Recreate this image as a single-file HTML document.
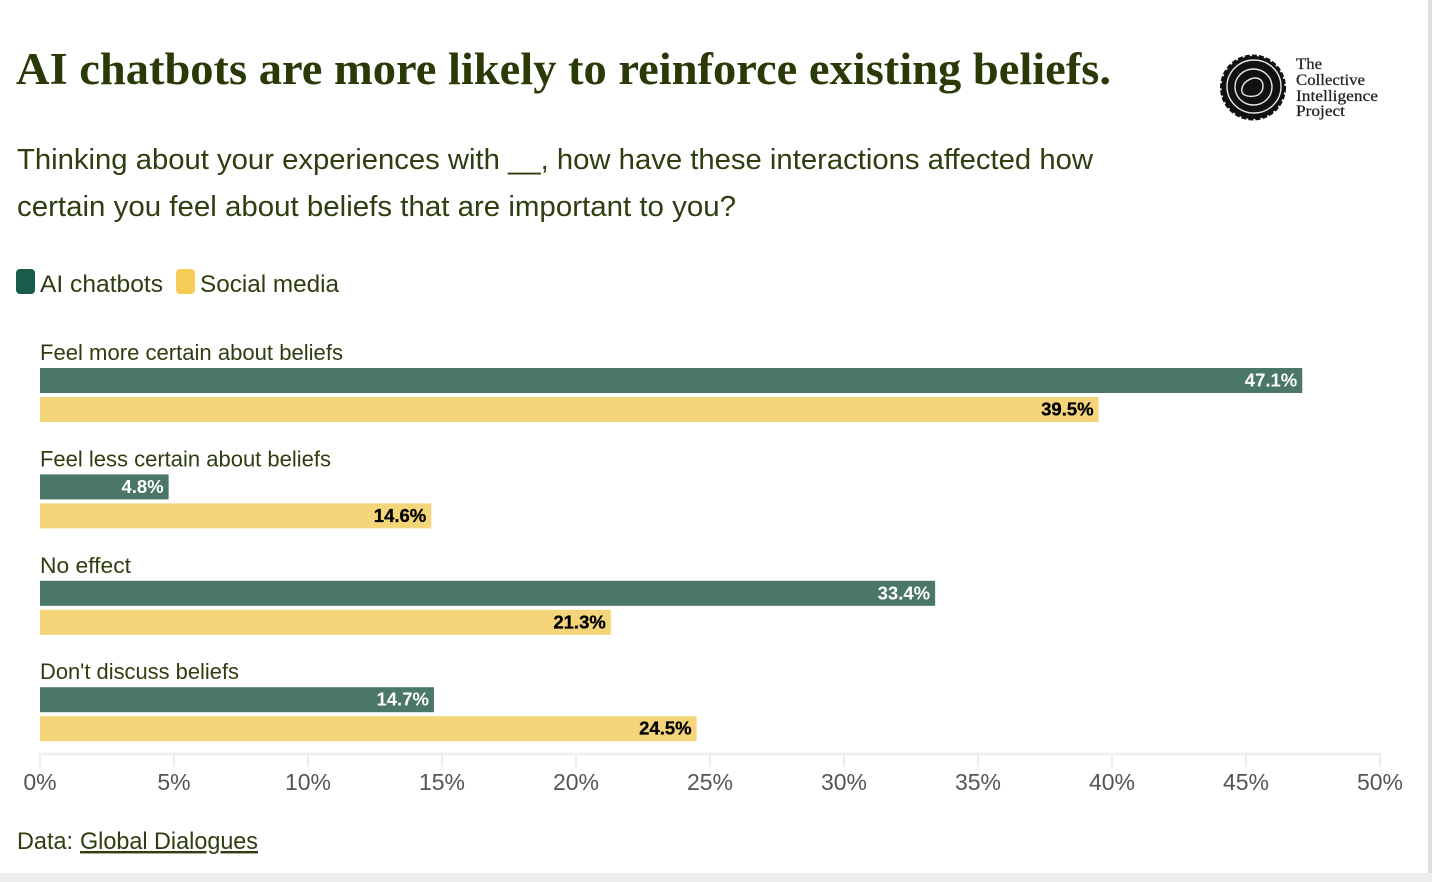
<!DOCTYPE html>
<html lang="en">
<head>
<meta charset="utf-8">
<title>AI chatbots are more likely to reinforce existing beliefs.</title>
<style>
  html, body { margin: 0; padding: 0; width: 1432px; height: 882px; overflow: hidden; background: #fff; }
  svg { display: block; position: absolute; left: 0; top: 0; }
  text { font-family: "Liberation Sans", sans-serif; }
  .serif { font-family: "Liberation Serif", serif; }
</style>
</head>
<body>
<svg id="chart" width="1432" height="882" viewBox="0 0 1432 882" xmlns="http://www.w3.org/2000/svg">
  <rect x="1428" y="0" width="4" height="882" fill="#dedede"/>
  <rect x="0" y="873" width="1432" height="9" fill="#eeeeee"/>

  <text class="serif" x="16" y="84" font-size="45" font-weight="700" fill="#2a3a06" textLength="1095" lengthAdjust="spacingAndGlyphs">AI chatbots are more likely to reinforce existing beliefs.</text>
  <text x="17" y="169" font-size="29" fill="#2f3d10" textLength="1076" lengthAdjust="spacingAndGlyphs">Thinking about your experiences with __, how have these interactions affected how</text>
  <text x="17" y="216" font-size="29" fill="#2f3d10" textLength="719" lengthAdjust="spacingAndGlyphs">certain you feel about beliefs that are important to you?</text>

  <g>
    <circle cx="1253" cy="87.5" r="31.5" fill="#111" stroke="#111" stroke-width="3" stroke-dasharray="5 2"/>
    <ellipse cx="1254" cy="86.5" rx="27" ry="26.5" fill="none" stroke="#e8e8e8" stroke-width="1.4"/>
    <ellipse cx="1253.5" cy="87" rx="18.5" ry="18" fill="none" stroke="#e8e8e8" stroke-width="1.4"/>
    <path d="M1255 78 c5 0 8 3 8 8 c0 5 -3 9 -8 10 c-5 1 -12 0 -13 -4 c-1 -5 2 -9 5 -11 c3 -2 5 -3 8 -3 z" fill="none" stroke="#e8e8e8" stroke-width="1.4"/>
    <text class="serif" x="1296" y="69" font-size="16" fill="#222" stroke="#222" stroke-width="0.25" textLength="26" lengthAdjust="spacingAndGlyphs">The</text>
    <text class="serif" x="1296" y="85" font-size="16" fill="#222" stroke="#222" stroke-width="0.25" textLength="69" lengthAdjust="spacingAndGlyphs">Collective</text>
    <text class="serif" x="1296" y="101" font-size="16" fill="#222" stroke="#222" stroke-width="0.25" textLength="82" lengthAdjust="spacingAndGlyphs">Intelligence</text>
    <text class="serif" x="1296" y="116" font-size="16" fill="#222" stroke="#222" stroke-width="0.25" textLength="49" lengthAdjust="spacingAndGlyphs">Project</text>
  </g>

  <g>
    <rect x="16" y="269" width="19" height="25" rx="4" fill="#1a5c4b"/>
    <text x="40" y="292" font-size="24.5" fill="#2f3d10" textLength="123" lengthAdjust="spacingAndGlyphs">AI chatbots</text>
    <rect x="176" y="269" width="19" height="25" rx="4" fill="#f7cb57"/>
    <text x="200" y="292" font-size="24.5" fill="#2f3d10" textLength="139" lengthAdjust="spacingAndGlyphs">Social media</text>
  </g>

  <g id="plot"></g>

  <text x="17" y="849" font-size="24" fill="#2f3d10" textLength="56" lengthAdjust="spacingAndGlyphs">Data:</text>
  <text x="80" y="849" font-size="24" fill="#2f3d10" textLength="178" lengthAdjust="spacingAndGlyphs" style="text-decoration:underline;">Global Dialogues</text>
</svg>
<script>
const categories = ['Feel more certain about beliefs', 'Feel less certain about beliefs', 'No effect', "Don't discuss beliefs"];
const aiChatbots = [47.1, 4.8, 33.4, 14.7];
const socialMedia = [39.5, 14.6, 21.3, 24.5];
const tickValues = [0, 5, 10, 15, 20, 25, 30, 35, 40, 45, 50];
const categoryLabelWidths = [303, 291, 91, 199];

const svgNS = 'http://www.w3.org/2000/svg';
const plot = document.getElementById('plot');

function xScale(v) { return 40 + (v / 50) * 1340; }
function groupTop(i) { return 368 + i * 106.4; }

function make(tag, attrs, text) {
  const el = document.createElementNS(svgNS, tag);
  Object.keys(attrs).forEach(function (k) { el.setAttribute(k, attrs[k]); });
  if (text !== undefined) el.textContent = text;
  plot.appendChild(el);
  return el;
}

categories.forEach(function (name, i) {
  const top = groupTop(i);
  const label = make('text', { x: 40, y: top - 8, 'font-size': 22, fill: '#2f3d10', textLength: categoryLabelWidths[i], lengthAdjust: 'spacingAndGlyphs' }, name);
  
  

  const barA = make('rect', { x: xScale(0), y: top, width: xScale(aiChatbots[i]) - xScale(0), height: 25, fill: '#4a7769' });
  
  
  const valA = make('text', { x: xScale(aiChatbots[i]) - 5, y: top + 18.5, 'font-size': 18.5, 'font-weight': 700, 'text-anchor': 'end', fill: '#ffffff' }, aiChatbots[i].toFixed(1) + '%');
  
  

  const barB = make('rect', { x: xScale(0), y: top + 29, width: xScale(socialMedia[i]) - xScale(0), height: 25, fill: '#f5d57a' });
  
  
  const valB = make('text', { x: xScale(socialMedia[i]) - 5, y: top + 47.5, 'font-size': 18.5, 'font-weight': 700, 'text-anchor': 'end', fill: '#000000', stroke: '#000000', 'stroke-width': 0.3 }, socialMedia[i].toFixed(1) + '%');
  
  
});

const axisLine = make('line', { x1: xScale(tickValues[0]) - 1, x2: xScale(tickValues[tickValues.length - 1]) + 1, y1: 754, y2: 754, stroke: '#eeeeee', 'stroke-width': 2.5 });



tickValues.forEach(function (t) {
  const mark = make('line', { x1: xScale(t), x2: xScale(t), y1: 754, y2: 767, stroke: '#eeeeee', 'stroke-width': 2.5 });
  
  
  const lab = make('text', { x: xScale(t), y: 790, 'font-size': 23, 'text-anchor': 'middle', fill: '#555555' }, t + '%');
  
  
});
</script>
</body>
</html>
